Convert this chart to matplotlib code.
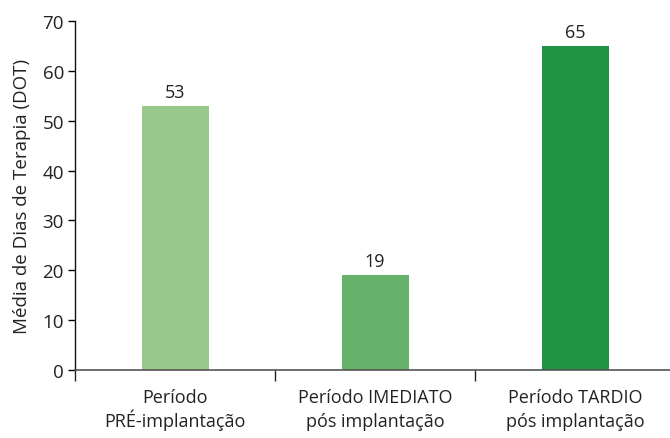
import matplotlib
matplotlib.use('Agg')
import matplotlib.pyplot as plt
import matplotlib.transforms as mtransforms
import numpy as np

categories = ['Período\nPRÉ-implantação',
              'Período IMEDIATO\npós implantação',
              'Período TARDIO\npós implantação']
values = [53, 19, 65]
colors = ['#98c98b', '#67b26a', '#1f9343']
y_ticks = [0, 10, 20, 30, 40, 50, 60, 70]

plt.rcParams['font.family'] = ['Open Sans', 'DejaVu Sans']
text_color = '#222222'

fig = plt.figure(figsize=(6.70, 4.39), dpi=100)
ax = fig.add_axes([0.112, 0.155, 0.888, 0.795])

x = np.arange(len(categories))
bars = ax.bar(x, values, width=0.335, color=colors, zorder=2)
for xi, v in zip(x, values):
    ax.text(xi, v + 1.0, str(v), ha='center', va='bottom', fontsize=13, color=text_color)

ax.set_xlim(-0.5, 2.475)
ax.set_ylim(0, 70)
ax.set_yticks(y_ticks)

# category labels, two lines each, placed at fixed baselines under the axis
ax.set_xticks(x)
ax.set_xticklabels([])
trans = mtransforms.blended_transform_factory(ax.transData, ax.transAxes)
for xi, lab in zip(x, categories):
    first, second = lab.split('\n')
    ax.text(xi, -32 / 349, first, transform=trans, ha='center', va='baseline',
            fontsize=13, color=text_color)
    ax.text(xi, -56 / 349, second, transform=trans, ha='center', va='baseline',
            fontsize=13, color=text_color)

ax.set_xticks([-0.5, 0.5, 1.5], minor=True)
ax.tick_params(axis='x', which='major', length=0)
ax.tick_params(axis='x', which='minor', length=8, width=1, color='#222222', direction='out')
ax.tick_params(axis='y', length=5, width=1, labelsize=13.5, labelcolor=text_color, pad=3)
ax.set_ylabel('Média de Dias de Terapia (DOT)', fontsize=13.5, color=text_color, labelpad=8)

for s in ['top', 'right']:
    ax.spines[s].set_visible(False)
ax.spines['bottom'].set_color('#555555')
ax.spines['bottom'].set_linewidth(1.2)
ax.spines['left'].set_color('#111111')
ax.spines['left'].set_linewidth(1)

fig.savefig('out.png', dpi=100)
